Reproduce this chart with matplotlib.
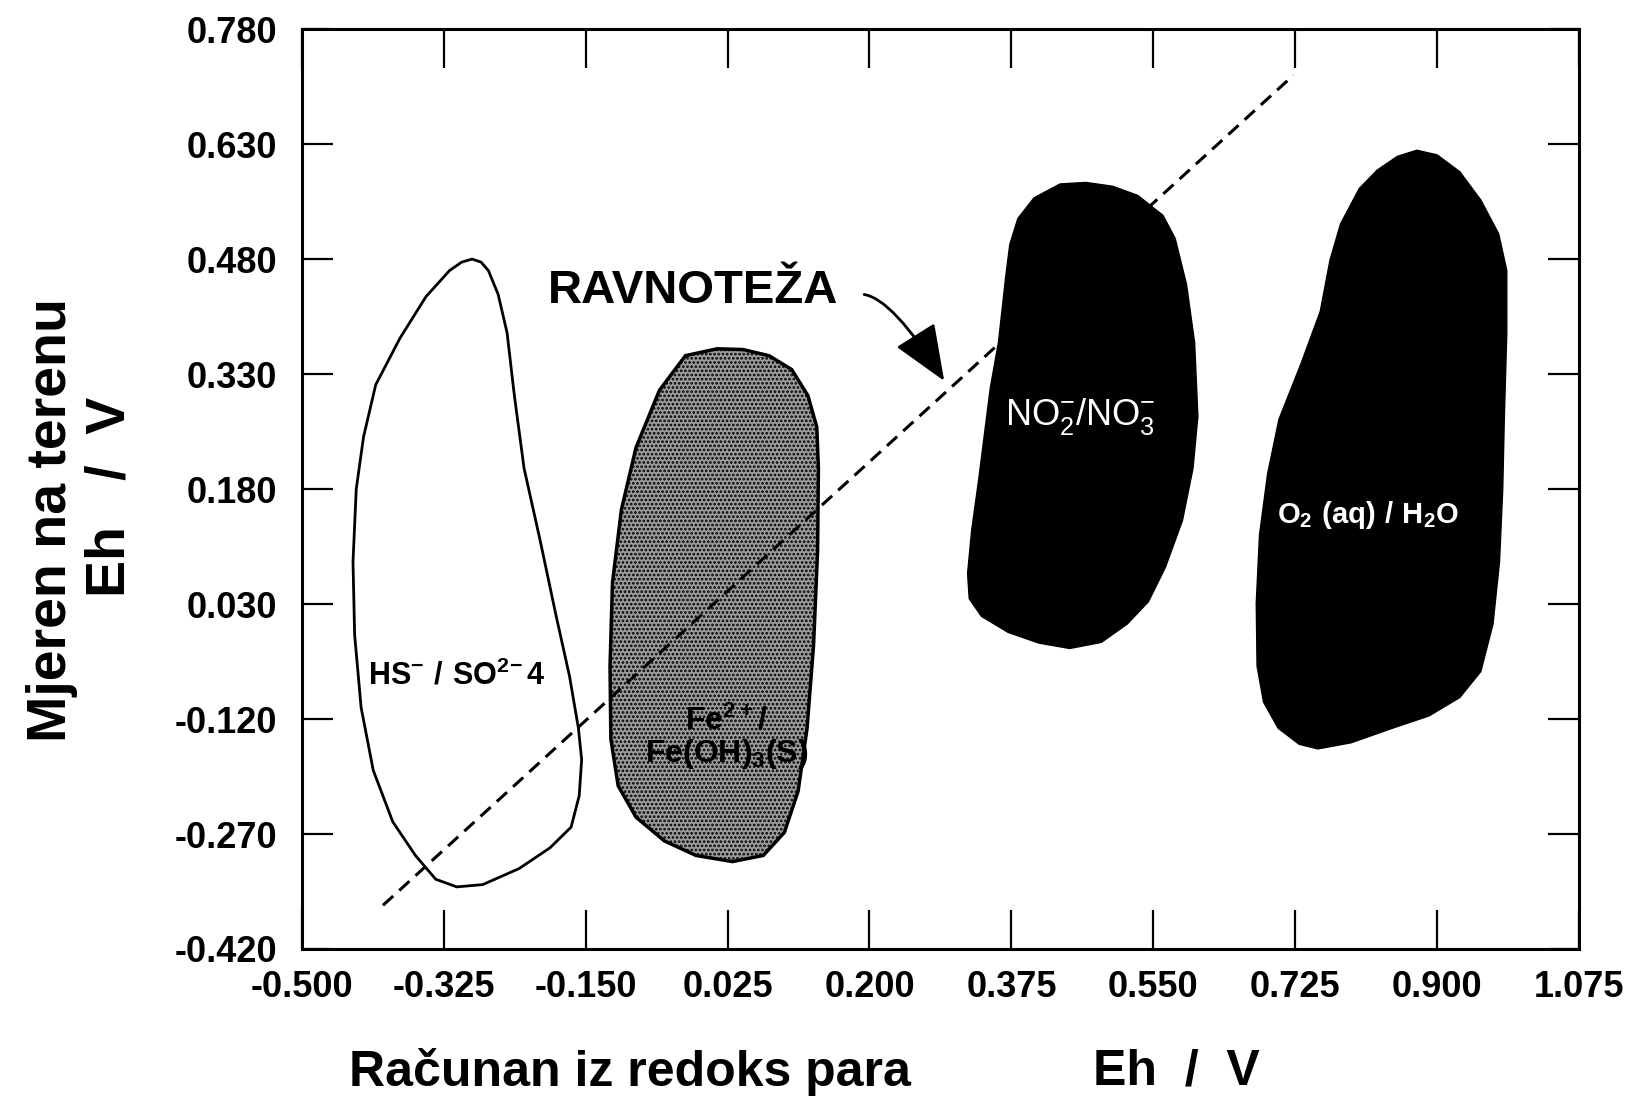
import matplotlib.pyplot as plt

plt.rcParams['mathtext.fontset'] = 'custom'
plt.rcParams['mathtext.rm'] = 'Liberation Sans'
plt.rcParams['mathtext.bf'] = 'Liberation Sans:bold'
plt.rcParams['hatch.color'] = '#505050'
plt.rcParams['hatch.linewidth'] = 1.3

# axis ticks
x_ticks = [-0.500, -0.325, -0.150, 0.025, 0.200, 0.375, 0.550, 0.725, 0.900, 1.075]
x_labels = ['-0.500', '-0.325', '-0.150', '0.025', '0.200', '0.375', '0.550', '0.725', '0.900', '1.075']
y_ticks = [-0.420, -0.270, -0.120, 0.030, 0.180, 0.330, 0.480, 0.630, 0.780]
y_labels = ['-0.420', '-0.270', '-0.120', '0.030', '0.180', '0.330', '0.480', '0.630', '0.780']

# HS- / SO4 2- region (outline only)
hs_x = [-0.290, -0.303, -0.318, -0.347, -0.379, -0.409, -0.424, -0.433, -0.437, -0.435,
        -0.427, -0.412, -0.388, -0.360, -0.335, -0.309, -0.277, -0.232, -0.194, -0.168,
        -0.158, -0.155, -0.159, -0.170, -0.187, -0.206, -0.226, -0.238, -0.247, -0.258,
        -0.270, -0.279]
hs_y = [0.480, 0.476, 0.465, 0.431, 0.377, 0.316, 0.248, 0.180, 0.085, -0.010,
        -0.105, -0.187, -0.254, -0.298, -0.329, -0.339, -0.336, -0.315, -0.288, -0.261,
        -0.220, -0.173, -0.132, -0.064, 0.017, 0.112, 0.207, 0.302, 0.384, 0.434,
        0.465, 0.476]

# Fe2+ / Fe(OH)3 region (grey)
fe_x = [0.012, -0.027, -0.059, -0.088, -0.106, -0.117, -0.120, -0.119, -0.110, -0.088,
        -0.053, -0.014, 0.031, 0.069, 0.095, 0.112, 0.123, 0.131, 0.136, 0.137,
        0.135, 0.124, 0.104, 0.076, 0.044]
fe_y = [0.363, 0.354, 0.309, 0.234, 0.153, 0.058, -0.051, -0.146, -0.207, -0.248,
        -0.279, -0.298, -0.306, -0.298, -0.268, -0.214, -0.132, -0.024, 0.099, 0.207,
        0.261, 0.302, 0.336, 0.354, 0.362]

# NO2- / NO3- region (black)
no_x = [0.467, 0.435, 0.403, 0.383, 0.373, 0.368, 0.359, 0.349, 0.335, 0.326,
        0.321, 0.323, 0.338, 0.371, 0.409, 0.447, 0.486, 0.518, 0.544, 0.565,
        0.586, 0.599, 0.605, 0.601, 0.591, 0.577, 0.562, 0.531, 0.500]
no_y = [0.580, 0.578, 0.560, 0.533, 0.499, 0.457, 0.371, 0.312, 0.195, 0.126,
        0.070, 0.037, 0.014, -0.007, -0.021, -0.028, -0.020, 0.004, 0.033, 0.078,
        0.139, 0.207, 0.275, 0.371, 0.447, 0.507, 0.537, 0.563, 0.575]

# O2(aq) / H2O region (black)
o2_x = [0.875, 0.851, 0.826, 0.804, 0.781, 0.768, 0.756, 0.732, 0.705, 0.691,
        0.681, 0.677, 0.678, 0.686, 0.704, 0.730, 0.753, 0.794, 0.845, 0.890,
        0.928, 0.954, 0.969, 0.977, 0.981, 0.983, 0.986, 0.986, 0.976, 0.954,
        0.928, 0.900]
o2_y = [0.622, 0.614, 0.596, 0.572, 0.526, 0.479, 0.412, 0.343, 0.271, 0.200,
        0.120, 0.031, -0.051, -0.098, -0.132, -0.153, -0.159, -0.151, -0.132, -0.116,
        -0.092, -0.058, 0.004, 0.085, 0.180, 0.275, 0.384, 0.465, 0.513, 0.557,
        0.594, 0.616]

# equilibrium line
eq_x = [-0.400, 0.723]
eq_y = [-0.363, 0.720]

fig = plt.figure(figsize=(16.32, 10.99), dpi=100)
ax = fig.add_axes([0.185, 0.1365, 0.7825, 0.837])

ax.fill(hs_x, hs_y, facecolor='white', edgecolor='black', linewidth=2.0, zorder=2)
ax.fill(fe_x, fe_y, facecolor='#9c9c9c', edgecolor='black', linewidth=2.5,
        hatch='....', zorder=2)
ax.fill(no_x, no_y, facecolor='black', edgecolor='black', linewidth=1, zorder=2)
ax.fill(o2_x, o2_y, facecolor='black', edgecolor='black', linewidth=1, zorder=2)

ax.plot(eq_x, eq_y, color='black', linewidth=2.2, dashes=(4.5, 2.7), zorder=3)

# labels inside regions
ax.text(-0.309, -0.062, r'$\mathbf{HS^{-}\ /\ SO^{2\!-}4}$', fontsize=22,
        ha='center', va='center', zorder=4)
ax.text(0.024, -0.145, r'$\mathbf{Fe^{2+}/}$' + '\n' + r'$\mathbf{Fe(OH)_3(S)}$',
        fontsize=23, ha='center', va='center', linespacing=1.0, zorder=4)
ax.text(0.460, 0.275, r'$\mathrm{NO_2^{-}/NO_3^{-}}$', fontsize=26, color='white',
        ha='center', va='center', zorder=4)
ax.text(0.815, 0.146, r'$\mathbf{O_2\ (aq)\ /\ H_2O}$', fontsize=21, color='white',
        ha='center', va='center', zorder=4)

ax.text(-0.197, 0.438, 'RAVNOTEŽA', fontsize=34, fontweight='bold',
        family='Liberation Sans', ha='left', va='center', zorder=4)
ax.annotate('', xy=(0.294, 0.318), xytext=(0.190, 0.434),
            arrowprops=dict(arrowstyle='-|>,head_length=1.1,head_width=0.45',
                            connectionstyle='angle3,angleA=0,angleB=-58',
                            color='black', linewidth=2, mutation_scale=32),
            zorder=4)

ax.set_xlim(-0.5, 1.075)
ax.set_ylim(-0.42, 0.78)
ax.set_xticks(x_ticks)
ax.set_xticklabels(x_labels)
ax.set_yticks(y_ticks)
ax.set_yticklabels(y_labels)

for lab in ax.get_xticklabels() + ax.get_yticklabels():
    lab.set_family('Liberation Sans')
    lab.set_fontweight('bold')
    lab.set_fontsize(26)

ax.tick_params(axis='x', direction='in', top=True, length=28, width=1.6, pad=15)
ax.tick_params(axis='y', direction='in', right=True, length=22, width=1.6, pad=18)
for s in ax.spines.values():
    s.set_linewidth(2.2)

fig.text(0.214, 0.025, 'Računan iz redoks para', fontsize=36, fontweight='bold',
         family='Liberation Sans', ha='left', va='center')
fig.text(0.670, 0.025, 'Eh  /  V', fontsize=36, fontweight='bold',
         family='Liberation Sans', ha='left', va='center')
fig.text(0.032, 0.527, 'Mjeren na terenu', fontsize=40, fontweight='bold',
         family='Liberation Sans', rotation=90, ha='center', va='center')
fig.text(0.068, 0.548, 'Eh   /  V', fontsize=40, fontweight='bold',
         family='Liberation Sans', rotation=90, ha='center', va='center')

plt.savefig('out.png', dpi=100)
